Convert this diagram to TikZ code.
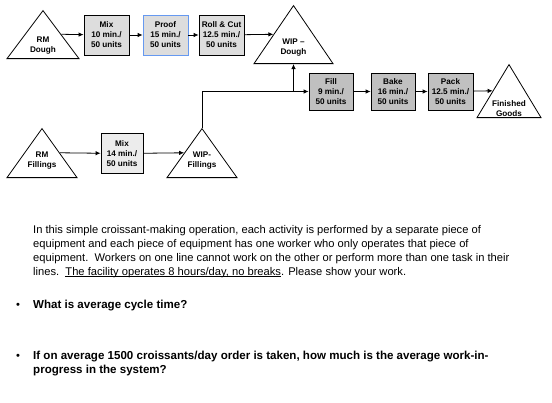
\documentclass[tikz,border=0pt]{standalone}
\usepackage{fontspec}
\setmainfont{Liberation Sans}
\usetikzlibrary{shapes.geometric,arrows.meta}

\definecolor{boxgray}{RGB}{221,221,221}
\definecolor{boxdark}{RGB}{192,192,192}
\definecolor{boxlight}{RGB}{236,236,236}
\definecolor{proofblue}{RGB}{102,153,240}

\newcommand\ulbase[1]{\setbox0\hbox{#1}\rlap{\rule[-1.4bp]{\wd0}{0.6bp}}\box0}

\tikzset{
	proc/.style={draw, line width=0.8bp, fill=boxgray, minimum width=45bp, minimum height=40bp, inner sep=0pt, align=center, font=\fontsize{8.2}{10}\selectfont\bfseries},
	tri/.style={draw, line width=0.8bp, isosceles triangle, isosceles triangle stretches, shape border rotate=90, inner sep=0pt, anchor=lower side},
	trilab/.style 2 args={label={[anchor=south, inner sep=0pt, yshift=#2, align=center, font=\fontsize{8.2}{10}\selectfont\bfseries]lower side:#1}},
	arr/.style={-{Latex[length=5bp,width=4.5bp]}, line width=0.8bp},
}

\begin{document}
\begin{tikzpicture}[x=1bp, y=-1bp]
	\useasboundingbox (0,0) rectangle (552,402);

	% linea pasta
	\node[tri, minimum width=72bp, minimum height=48bp, trilab={RM\\Dough}{5bp}] (rmd) at (43,59) {};
	\node[proc] (mix1) at (106.5,35) {Mix\\10 min./\\50 units};
	\node[proc, draw=proofblue] (proof) at (165.5,35) {Proof\\15 min./\\50 units};
	\node[proc] (rc) at (221.5,35) {Roll \& Cut\\12.5 min./\\50 units};
	\node[tri, minimum width=79bp, minimum height=58bp, trilab={WIP --\\Dough}{8bp}] (wd) at (293.5,64) {};

	% linea ripieno
	\node[tri, minimum width=70bp, minimum height=49bp, trilab={RM\\Fillings}{9bp}] (rmf) at (42,178) {};
	\node[proc, fill=boxlight, minimum width=42bp] (mix2) at (122,153.5) {Mix\\14 min./\\50 units};
	\node[tri, minimum width=70bp, minimum height=49bp, trilab={WIP-\\Fillings}{9bp}] (wf) at (202,178) {};

	% linea finale
	\node[proc, fill=boxdark, minimum width=44bp, minimum height=37bp] (fill) at (331,91.5) {Fill\\9 min./\\50 units};
	\node[proc, fill=boxdark, minimum width=44bp, minimum height=37bp] (bake) at (393,91.5) {Bake\\16 min./\\50 units};
	\node[proc, fill=boxdark, minimum width=45bp, minimum height=37bp] (pack) at (450.5,91.5) {Pack\\12.5 min./\\50 units};
	\node[tri, minimum width=64bp, minimum height=53bp, trilab={Finished\\Goods}{1.5bp}] (fg) at (509,118) {};

	\draw[arr] (rmd.right side) -- (mix1);
	\draw[arr] (mix1) -- (proof);
	\draw[arr] (proof) -- (rc);
	\draw[arr] (rc) -- (wd.left side);

	\draw[arr] (rmf.right side) -- (mix2);
	\draw[arr] (mix2) -- (wf.left side);

	\coordinate (jn) at (wd.lower side |- fill.west);
	\draw[line width=0.8bp] (wf.apex) |- (jn); % da WIP-Fillings su
	\draw[arr] (jn) -- (wd.lower side);
	\draw[arr] (jn) -- (fill);
	\draw[arr] (fill) -- (bake);
	\draw[arr] (bake) -- (pack);
	\draw[arr] (pack) -- (fg.left side);

	% testo
	\node[anchor=north west, align=left, inner sep=0pt, font=\fontsize{11.2}{14}\selectfont] (txt) at (33,225.5) {In this simple croissant-making operation, each activity is performed by a separate piece of\\equipment and each piece of equipment has one worker who only operates that piece of\\equipment.\ \ Workers on one line cannot work on the other or perform more than one task in their\\lines.\ \ \ulbase{The facility operates 8 hours/day, no breaks}. Please show your work.};

	\node[anchor=base west, inner sep=0pt, font=\fontsize{11.2}{14}\selectfont] (b1) at (16,308) {•};
	\node[anchor=base west, inner sep=0pt, font=\fontsize{11.6}{14}\selectfont\bfseries] (q1) at (33,308) {What is average cycle time?};
	\node[anchor=base west, inner sep=0pt, font=\fontsize{11.2}{14}\selectfont] (b2) at (16,359) {•};
	\node[anchor=north west, align=left, inner sep=0pt, font=\fontsize{11.6}{14}\selectfont\bfseries] (q2) at (33,350.5) {If on average 1500 croissants/day order is taken, how much is the average work-in-\\progress in the system?};
\end{tikzpicture}
\end{document}
